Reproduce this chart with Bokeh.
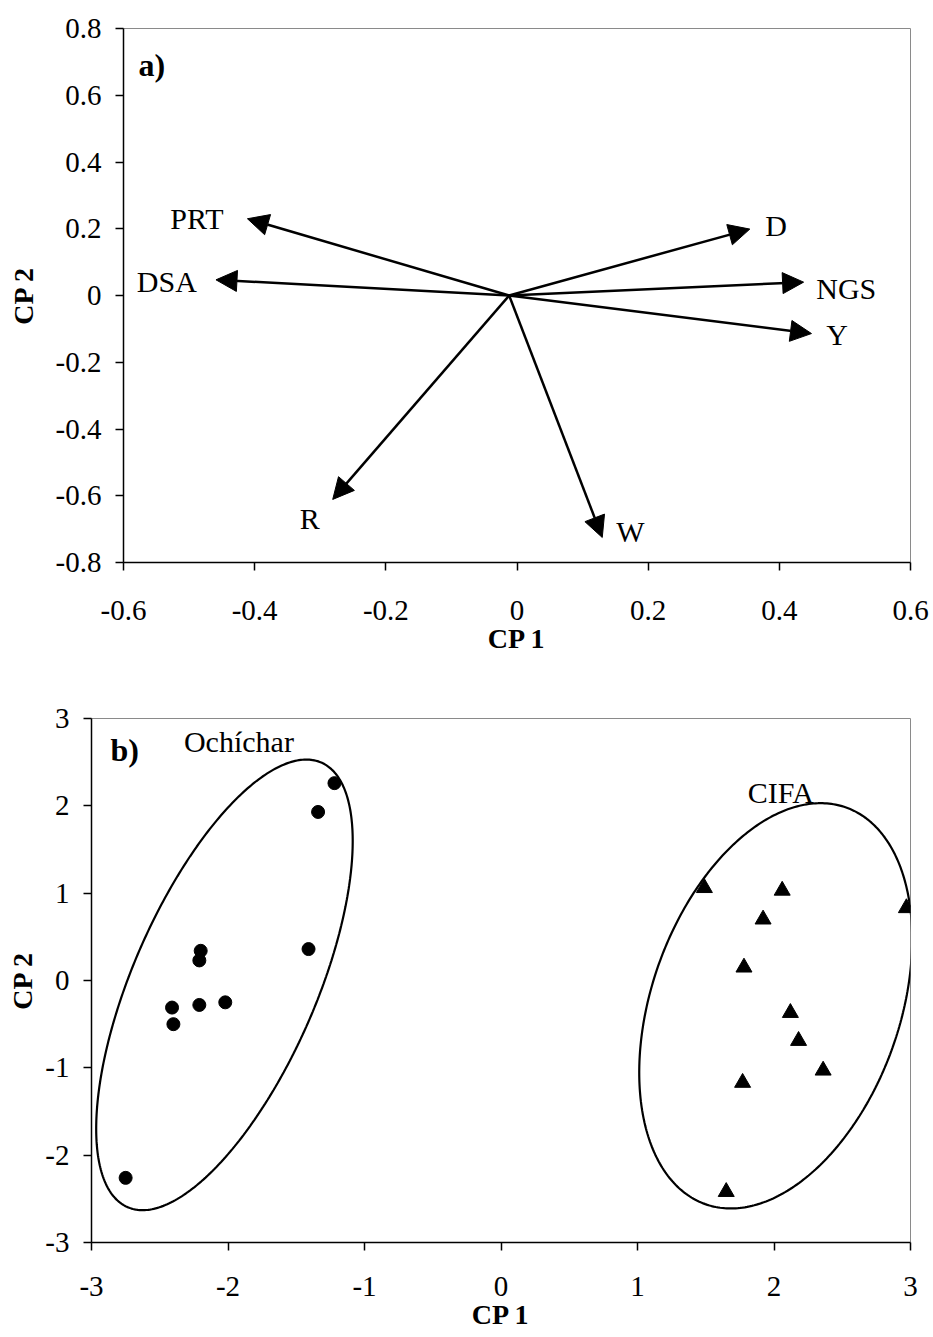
import numpy as np
from bokeh.plotting import figure
from bokeh.models import Arrow, NormalHead, ColumnDataSource, FixedTicker, Range1d
from bokeh.embed import file_html
from bokeh.resources import INLINE
from bokeh.core.properties import value

# ---------------- Panel a: loadings ----------------
var_names = ["PRT", "DSA", "D", "NGS", "Y", "R", "W"]
origin_cp1 = -0.012
origin_cp2 = 0.0
load_cp1 = [-0.411, -0.459, 0.355, 0.437, 0.449, -0.281, 0.130]
load_cp2 = [0.230, 0.047, 0.199, 0.040, -0.114, -0.611, -0.725]
label_cp1 = [-0.488, -0.534, 0.395, 0.502, 0.488, -0.316, 0.173]
label_cp2 = [0.232, 0.043, 0.211, 0.020, -0.118, -0.668, -0.706]

a_xticks = [-0.6, -0.4, -0.2, 0.0, 0.2, 0.4, 0.6]
a_xtick_labels = ["-0.6", "-0.4", "-0.2", "0", "0.2", "0.4", "0.6"]
a_yticks = [-0.8, -0.6, -0.4, -0.2, 0.0, 0.2, 0.4, 0.6, 0.8]
a_ytick_labels = ["-0.8", "-0.6", "-0.4", "-0.2", "0", "0.2", "0.4", "0.6", "0.8"]

# ---------------- Panel b: scores ----------------
ochi_cp1 = [-2.75, -2.41, -2.40, -2.21, -2.20, -2.21, -2.02, -1.41, -1.34, -1.22]
ochi_cp2 = [-2.26, -0.31, -0.50, 0.23, 0.34, -0.28, -0.25, 0.36, 1.93, 2.26]
cifa_cp1 = [1.49, 2.06, 1.92, 1.78, 2.97, 2.12, 2.18, 2.36, 1.77, 1.65]
cifa_cp2 = [1.06, 1.03, 0.70, 0.15, 0.83, -0.37, -0.69, -1.03, -1.17, -2.42]

# ellipses: centre x, centre y, semi-axis a, semi-axis b, angle (deg)
ochi_ellipse = [-2.026, -0.05, 2.654, 0.703, 75.9]
cifa_ellipse = [2.0125, -0.29, 2.348, 0.933, 80.4]

b_xticks = [-3, -2, -1, 0, 1, 2, 3]
b_xtick_labels = ["-3", "-2", "-1", "0", "1", "2", "3"]
b_yticks = [-3, -2, -1, 0, 1, 2, 3]
b_ytick_labels = ["-3", "-2", "-1", "0", "1", "2", "3"]

FONT = "Liberation Serif"


def style(p, xt, xl, yt, yl, x_standoff, y_standoff, yl_standoff):
    p.outline_line_color = "#8a8a8a"
    p.outline_line_width = 1
    p.grid.visible = False
    for ax in (p.xaxis[0], p.yaxis[0]):
        ax.axis_line_color = "black"
        ax.axis_line_width = 1.5
        ax.major_tick_line_color = "black"
        ax.major_tick_line_width = 1.5
        ax.major_tick_out = 8
        ax.major_tick_in = 0
        ax.minor_tick_line_color = None
        ax.major_label_text_font = FONT
        ax.major_label_text_font_size = "29px"
        ax.major_label_text_color = "black"
        ax.axis_label_text_font = FONT
        ax.axis_label_text_font_size = "28px"
        ax.axis_label_text_font_style = "bold"
        ax.axis_label_text_color = "black"
    p.xaxis[0].ticker = FixedTicker(ticks=xt)
    p.xaxis[0].major_label_overrides = {t: l for t, l in zip(xt, xl)}
    p.yaxis[0].ticker = FixedTicker(ticks=yt)
    p.yaxis[0].major_label_overrides = {t: l for t, l in zip(yt, yl)}
    p.xaxis[0].major_label_standoff = x_standoff
    p.yaxis[0].major_label_standoff = y_standoff
    p.xaxis[0].axis_label_standoff = 0
    p.yaxis[0].axis_label_standoff = yl_standoff
    p.xaxis[0].axis_label = "CP 1"
    p.yaxis[0].axis_label = "CP 2"


# ---------- figure a ----------
pa = figure(frame_width=787, frame_height=534, output_backend="svg",
            toolbar_location=None, x_range=Range1d(-0.6, 0.6),
            y_range=Range1d(-0.8, 0.8), min_border_left=123,
            min_border_right=23, min_border_top=28, min_border_bottom=103,
            background_fill_color="white", border_fill_color="white")
style(pa, a_xticks, a_xtick_labels, a_yticks, a_ytick_labels, 30, 14, 14)

arrow_src = ColumnDataSource(dict(
    x0=[origin_cp1] * len(load_cp1), y0=[origin_cp2] * len(load_cp2),
    x1=load_cp1, y1=load_cp2))
pa.add_layout(Arrow(end=NormalHead(size=21, fill_color="black",
                                   line_color="black", line_width=1),
                    x_start="x0", y_start="y0", x_end="x1", y_end="y1",
                    source=arrow_src, line_color="black", line_width=2.5))
pa.text(x=label_cp1, y=label_cp2, text=var_names, text_font=value(FONT),
        text_font_size="30px", text_align="center", text_baseline="middle",
        text_color="black")
pa.text(x=[-0.577], y=[0.69], text=["a)"], text_font=value(FONT),
        text_font_size="32px", text_font_style="bold", text_align="left",
        text_baseline="middle", text_color="black")

# ---------- figure b ----------
pb = figure(frame_width=819, frame_height=524, output_backend="svg",
            toolbar_location=None, x_range=Range1d(-3, 3),
            y_range=Range1d(-3, 3), min_border_left=91,
            min_border_right=23, min_border_top=53, min_border_bottom=95,
            background_fill_color="white", border_fill_color="white")
style(pb, b_xticks, b_xtick_labels, b_yticks, b_ytick_labels, 26, 14, 4)


def ellipse_pts(par):
    cx, cy, a, b, ang = par
    th = np.deg2rad(ang)
    t = np.linspace(0, 2 * np.pi, 361)
    x = cx + a * np.cos(t) * np.cos(th) - b * np.sin(t) * np.sin(th)
    y = cy + a * np.cos(t) * np.sin(th) + b * np.sin(t) * np.cos(th)
    return x, y


for par in (ochi_ellipse, cifa_ellipse):
    ex, ey = ellipse_pts(par)
    pb.line(ex, ey, line_color="black", line_width=2.2)

pb.scatter(ochi_cp1, ochi_cp2, marker="circle", size=13, fill_color="black",
           line_color="black")
pb.scatter(cifa_cp1, cifa_cp2, marker="triangle", size=16, fill_color="black",
           line_color="black")

pb.text(x=[-2.861], y=[2.634], text=["b)"], text_font=value(FONT),
        text_font_size="32px", text_font_style="bold", text_align="left",
        text_baseline="middle", text_color="black")
pb.text(x=[-1.92, 2.05], y=[2.74, 2.15], text=["Ochíchar", "CIFA"],
        text_font=value(FONT), text_font_size="30px", text_align="center",
        text_baseline="middle", text_color="black")

open("out.html", "w").write(file_html([pa, pb], INLINE))
